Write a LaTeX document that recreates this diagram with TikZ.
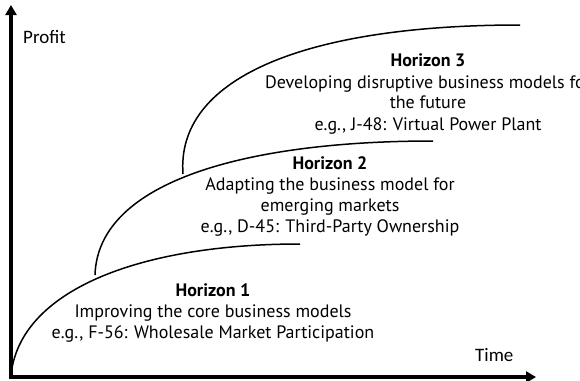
\documentclass[tikz,border=0pt]{standalone}
\usepackage{fontspec}
\setmainfont{PT Sans}
\newfontfamily\axisfont{Carlito}
\usetikzlibrary{arrows.meta}
\begin{document}
\begin{tikzpicture}[x=1pt,y=-1pt,
  axis/.style={line width=3.5pt,-{Triangle[length=10pt,width=11pt]}},
  curve/.style={line width=1.5pt},
  axislabel/.style={font=\axisfont\fontsize{19}{22}\selectfont,inner sep=0pt},
  horizon/.style={align=center,font=\fontsize{18}{21}\selectfont,inner sep=0pt}]
\useasboundingbox (0,0) rectangle (580,380);
% axes
\coordinate (origin) at (11,377);
\coordinate (ytip) at (11,5);
\coordinate (xtip) at (536,377);
\draw[axis] ([yshift=-1.5pt]origin) -- (ytip);
\draw[axis] ([xshift=-1.5pt]origin) -- (xtip);
\node[axislabel,anchor=base west] (profit) at (23,43) {Profit};
\node[axislabel,anchor=base west] (time) at (475,361) {Time};
% growth curves of the three horizons
\coordinate (h1start) at (11,375);
\coordinate (h1end) at (300,244);
\coordinate (h2start) at (95,275);
\coordinate (h2end) at (433,141);
\coordinate (h3start) at (183,174);
\coordinate (h3end) at (520,25);
\draw[curve] (h1start) .. controls (20,290) and (140,244) .. (h1end);
\draw[curve] (h2start) .. controls (98,180) and (250,141) .. (h2end);
\draw[curve] (h3start) .. controls (176,80) and (300,25) .. (h3end);
% descriptions
\node[horizon,anchor=north] (h3) at (428,54) {\textbf{Horizon 3}\\Developing disruptive business models for\\the future\\e.g., J-48: Virtual Power Plant};
\node[horizon,anchor=north] (h2) at (330,156) {\textbf{Horizon 2}\\Adapting the business model for\\emerging markets\\e.g., D-45: Third-Party Ownership};
\node[horizon,anchor=north] (h1) at (213,283) {\textbf{Horizon 1}\\Improving the core business models\\e.g., F-56: Wholesale Market Participation};
\end{tikzpicture}
\end{document}
